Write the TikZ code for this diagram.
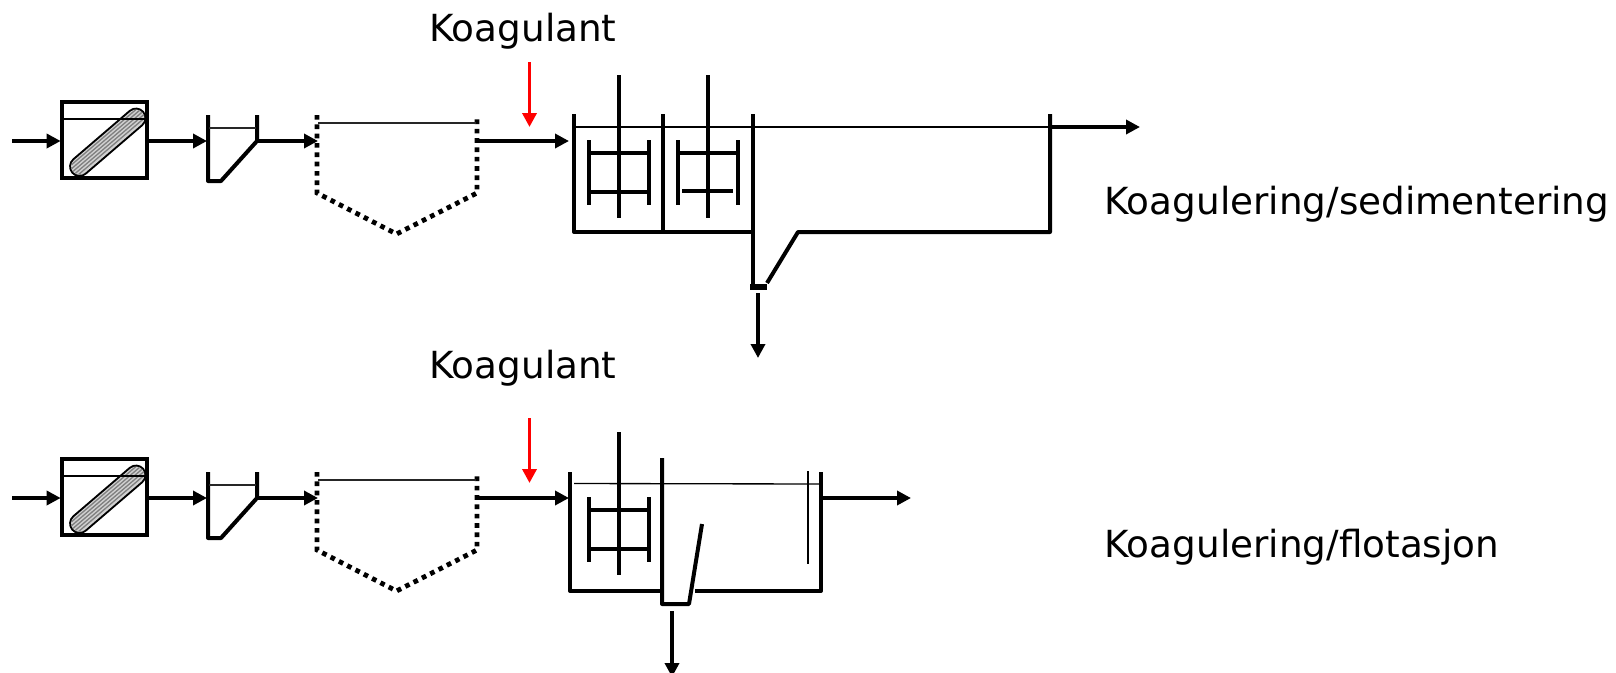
\documentclass[tikz,border=0pt]{standalone}
\usepackage{fontspec}
\setmainfont{DejaVu Sans}
\usetikzlibrary{arrows.meta}
\tikzset{
  wall/.style={line width=3pt,line join=round,line cap=butt,black},
  thinw/.style={line width=1.1pt,black!85},
  flow/.style={line width=2.6pt,-{Triangle[length=10.5pt,width=10.5pt]}},
  redflow/.style={flow,red},
  dots/.style={line width=3.6pt,dash pattern=on 3.5pt off 3.5pt},
  lab/.style={anchor=base west,inner sep=0pt,font=\fontsize{28pt}{32pt}\selectfont},
  screenbox/.style={draw,line width=3pt,minimum width=63.4pt,minimum height=57.4pt,inner sep=0pt,anchor=north west,outer sep=0pt}
}
\begin{document}
\begin{tikzpicture}[x=0.75pt,y=-0.75pt]
\clip (0,0) rectangle (1616,672);
\fill[white] (0,0) rectangle (1616,672);
% ---------- common pre-treatment, both rows
\foreach \o/\n in {0/a,357/b}{
\begin{scope}[yshift=-0.75*\o pt]
  \coordinate (in\n) at (12,141);
  \coordinate (gw\n) at (207,141);
  \coordinate (gr\n) at (257,141);
  \coordinate (tw\n) at (318,141);
  \coordinate (tr\n) at (477,141);
  % pill
  \draw[line width=15.6pt,line cap=round,black] (79.5,166.5) -- (136,118);
  \draw[line width=12.6pt,line cap=round,black!18] (79.5,166.5) -- (136,118);
  \foreach \d in {-6.5,-3.5,-.5,2.5,5.5}{
    \pgfmathsetmacro{\e}{sqrt(66-\d*\d)}
    \draw[line width=1pt,black!50] (79.5+\d*.65-\e*.76,166.5+\d*.76+\e*.65) -- (136+\d*.65+\e*.76,118+\d*.76-\e*.65);
  }
  \node[screenbox] (screen\n) at (62,101.8) {};
  \draw[line width=2.2pt] (62,119) -- (147,119);
  \draw[flow,shorten >=1pt] (in\n) -- (screen\n.west |- in\n);
  \draw[flow] (screen\n.east |- gw\n) -- (gw\n);
  % grit chamber
  \draw[wall] (208,115) -- (208,181) -- (221,181) -- (257,141) -- (257,115);
  \draw[thinw] (209,128) -- (256,128);
  \draw[flow] (gr\n) -- (tw\n);
  % dotted tank
  \draw[dots] (317,115) -- (317,193) -- (396.5,234) -- (477,193) -- (477,115);
  \draw[line width=1.3pt,black!85] (318,123) -- (476,123);
\end{scope}
}
% ---------- row 1
\coordinate (t1) at (569,141);
\draw[flow] (tra) -- (t1);
\coordinate (r1s) at (529.5,62); \coordinate (r1e) at (529.5,127);
\draw[redflow] (r1s) -- (r1e);
\node[lab] (k1) at (429,41) {Koagulant};
\draw[wall] (574,114) -- (574,232) -- (753,232);
\draw[wall] (663,114) -- (663,232);
\draw[wall] (753,114) -- (753,284);
\draw[wall] (767,283) -- (798,232) -- (1050,232) -- (1050,114);
\draw[line width=1pt] (575,127) -- (1050,127);
\foreach \x/\a/\b/\y in {589/589/649/192,678/682/733/191}{
  \draw[wall] (\x,140) -- (\x,205);
  \draw[wall] (\x+60,140) -- (\x+60,205);
  \draw[wall] (\x,153) -- (\x+60,153);
  \draw[wall] (\a,\y) -- (\b,\y);
  \draw[wall] (\x+30,75) -- (\x+30,218);
}
\draw[line width=4.2pt] (750,287) -- (767,287);
\coordinate (o1s) at (1050,127); \coordinate (o1e) at (1140,127);
\draw[flow] (o1s) -- (o1e);
\coordinate (s1s) at (758,293); \coordinate (s1e) at (758,358);
\draw[flow] (s1s) -- (s1e);
\node[lab] (p1) at (1104,214.5) {Koagulering/sedimentering};
% ---------- row 2
\coordinate (t2) at (569,498);
\draw[flow] (trb) -- (t2);
\coordinate (r2s) at (529.5,418); \coordinate (r2e) at (529.5,483);
\draw[redflow] (r2s) -- (r2e);
\node[lab] (k2) at (429,378.5) {Koagulant};
\draw[wall] (570,472) -- (570,591) -- (662,591);
\draw[wall] (662,458) -- (662,604) -- (689,604) -- (702,524);
\draw[wall] (695,591) -- (821,591) -- (821,472);
\draw[line width=1pt] (574,483.5) -- (820,484);
\draw[line width=1pt] (808,471) -- (808,564);
\draw[wall] (589,497) -- (589,562);
\draw[wall] (649,497) -- (649,562);
\draw[wall] (589,510) -- (649,510);
\draw[wall] (589,549) -- (649,549);
\draw[wall] (619,432) -- (619,575);
\coordinate (o2s) at (823,498); \coordinate (o2e) at (911,498);
\draw[flow] (o2s) -- (o2e);
\coordinate (s2s) at (672,611); \coordinate (s2e) at (672,677);
\draw[flow] (s2s) -- (s2e);
\node[lab] (p2) at (1104,557.5) {Koagulering/flotasjon};
\end{tikzpicture}
\end{document}
